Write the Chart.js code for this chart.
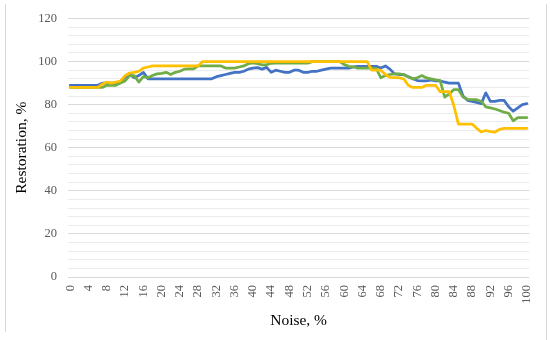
<!DOCTYPE html>
<html>
<head>
<meta charset="utf-8">
<script src="https://cdn.jsdelivr.net/npm/chart.js@4"></script>
<style>
  html, body { margin: 0; padding: 0; background: #fff; }
  #wrap { width: 550px; height: 340px; }
</style>
</head>
<body>
<div id="wrap"><canvas id="c" width="550" height="340"></canvas></div>
<script>
const noise = [];
for (let i = 0; i <= 100; i++) noise.push(String(i));

const blue = [
    89, 89, 89, 89, 89, 89, 89,
    90, 90, 90, 90, 90.5,
    93, 94, 92.5, 93.5, 95, 92,
    92, 92, 92, 92, 92, 92, 92, 92, 92, 92, 92, 92, 92, 92,
    93, 93.5, 94, 94.5, 95, 95, 95.5, 96.5, 97, 97.2, 96.5, 97.3, 95, 96, 95.5, 95, 95, 96,
    96, 95, 95, 95.5, 95.5, 96, 96.5, 97, 97, 97, 97, 97, 97.5, 97.8, 97.8, 97.8, 97.8, 97.8, 97, 98,
    96.5, 94.3, 94, 94, 93, 92, 91.2, 91, 91, 91.5, 91, 91, 90.5, 90, 90, 90,
    84, 82, 81.5, 81, 80.5, 85.5, 81.5, 81.5, 82, 82, 79, 77, 78.5, 80, 80.5
];
const green = [
    88, 88, 88, 88, 88, 88, 88, 88,
    89, 89, 89, 90, 91,
    93.5, 93.5, 90.5, 93, 92.5, 93.5, 94.3, 94.5, 95, 94, 95, 95.5, 96.5, 96.6, 96.6,
    98, 98, 98, 98, 98, 98, 97, 97, 97, 97.5, 98, 99, 99.4, 99, 98.5, 98.5, 99.2,
    99.3, 99.3, 99.3, 99.3, 99.3, 99.3, 99.3, 99.3,
    100, 100, 100, 100, 100, 100, 100,
    98.6, 97.8, 97.5, 97, 97, 97, 97, 96.8,
    92.5, 93.5, 94, 94.3, 94.3, 94, 93, 92, 92.5, 93.5, 92.4, 92, 91.5, 91.2,
    83.5, 85, 87, 87, 83.5, 82.5, 82.3, 82.3, 81.5, 79, 78.5, 78, 77.3, 76.5, 76, 72.5, 74, 74, 74
];
const yellow = [
    88, 88, 88, 88, 88, 88, 88,
    89.5, 90.5, 90, 90.5, 91, 93.5, 94.7, 95, 95.5, 97, 97.5, 98,
    98, 98, 98, 98, 98, 98, 98, 98, 98, 98,
    100, 100, 100, 100, 100, 100, 100, 100, 100, 100, 100, 100, 100, 100, 100, 100, 100, 100, 100,
    100, 100, 100, 100, 100, 100, 100, 100, 100, 100, 100, 100, 100, 100, 100, 100, 100, 100,
    96, 96, 96, 94, 92.7, 92.5, 92.5, 92, 89, 88, 88, 88, 89, 89, 89,
    86, 86, 86, 79.5, 71, 71, 71, 71, 69, 67.3, 68, 67.5, 67.3, 68.5, 69, 69, 69, 69, 69, 69
];

const serif = "'Liberation Serif', 'DejaVu Serif', serif";

// thin frame lines left and right like the pasted Excel chart
const framePlugin = {
    id: "frame",
    beforeDraw(chart) {
        const ctx = chart.ctx;
        ctx.save();
        ctx.strokeStyle = "#d9d9d9";
        ctx.lineWidth = 1;
        ctx.beginPath();
        ctx.moveTo(5.5, 4);
        ctx.lineTo(5.5, 332);
        ctx.moveTo(546.5, 4);
        ctx.lineTo(546.5, 340);
        ctx.stroke();
        ctx.restore();
    }
};

new Chart(document.getElementById("c"), {
    type: "line",
    plugins: [framePlugin],
    data: {
        labels: noise,
        datasets: [
            { data: blue, borderColor: "#4472C4", order: 3 },
            { data: green, borderColor: "#70AD47", order: 2 },
            { data: yellow, borderColor: "#FFC000", order: 1 }
        ]
    },
    options: {
        responsive: false,
        animation: false,
        layout: { padding: { left: 0, right: 17, top: 18, bottom: 0 } },
        elements: {
            point: { radius: 0 },
            line: { borderWidth: 2.75, tension: 0, borderCapStyle: "round", borderJoinStyle: "round" }
        },
        plugins: {
            legend: { display: false },
            tooltip: { enabled: false }
        },
        scales: {
            x: {
                offset: true,
                grid: { display: false, drawTicks: false },
                border: { display: false },
                afterFit: (scale) => { scale.height = 63; },
                ticks: {
                    autoSkip: false,
                    maxRotation: 90,
                    minRotation: 90,
                    padding: 8,
                    color: "#595959",
                    font: { family: serif, size: 12.5 },
                    callback: function (value, index) {
                        return index % 4 === 0 ? this.getLabelForValue(value) : "";
                    }
                },
                title: {
                    display: true,
                    text: "Noise, %",
                    color: "#000",
                    font: { family: serif, size: 15.5 },
                    padding: { top: 0, bottom: 10 }
                }
            },
            y: {
                min: 0,
                max: 120,
                afterFit: (scale) => { scale.width = 68; },
                border: { display: false },
                grid: {
                    drawTicks: false,
                    color: (ctx) => (ctx.tick && ctx.tick.value % 20 === 0) ? "#d9d9d9" : "#ebebeb",
                    lineWidth: 1
                },
                ticks: {
                    stepSize: 4,
                    autoSkip: false,
                    padding: 11,
                    color: "#595959",
                    font: { family: serif, size: 12.5 },
                    callback: (v) => (v % 20 === 0 ? v : "")
                },
                title: {
                    display: true,
                    text: "Restoration, %",
                    color: "#000",
                    font: { family: serif, size: 15.5 },
                    padding: { top: 13, bottom: 0 }
                }
            }
        }
    }
});
</script>
</body>
</html>
